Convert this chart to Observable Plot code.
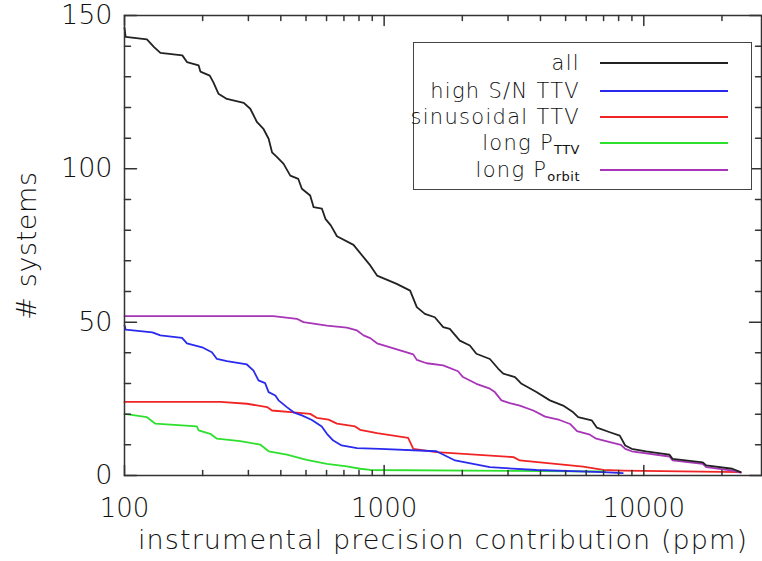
<!DOCTYPE html>
<html>
<head>
<meta charset="utf-8">
<script src="https://cdn.jsdelivr.net/npm/d3@7"></script>
<script src="https://cdn.jsdelivr.net/npm/@observablehq/plot@0.6"></script>
<style>
  html, body { margin: 0; padding: 0; background: white; }
  #wrap { position: relative; width: 762px; height: 561px; font-family: "DejaVu Sans", sans-serif; font-weight: 200; color: #111; }
  #legend { position: absolute; left: 413px; top: 42px; width: 339px; height: 148px; box-sizing: border-box; border: 1.5px solid #444; background: white; }
  .row { position: absolute; left: 0; width: 100%; height: 26px; }
  .lab { position: absolute; right: 171px; top: 0; line-height: 26px; font-size: 21px; letter-spacing: 1.3px; white-space: nowrap; color: #111; }
  .lab sub { font-size: 13px; vertical-align: -4px; letter-spacing: 0.5px; font-weight: 400; }
  .swatch { position: absolute; left: 186px; width: 128px; top: 12px; height: 0; border-top: 2px solid; }
</style>
</head>
<body>
<div id="wrap"></div>
<script>
// ---- data ----
const allX = [100, 101, 122, 130, 137.5, 167, 174, 193, 196, 213, 220, 230, 248, 288, 305, 324, 343, 359, 370, 387, 410, 435, 467, 482, 519, 535, 576, 594, 624, 658, 762, 884, 939, 1118, 1259, 1336, 1435, 1567, 1688, 1790, 1956, 2138, 2266, 2554, 2752, 2876, 3191, 3383, 3859, 4348, 4890, 5349, 5587, 6300, 6600, 7400, 8081, 8480, 8980, 10200, 12550, 12920, 16870, 17400, 21920, 23600];
const allY = [146, 143, 142.2, 139.7, 137.8, 137, 134.8, 133.7, 131.7, 130.4, 128.2, 124.5, 122.8, 121.5, 119.6, 115.2, 113, 109.8, 105.4, 103.8, 101.6, 97.8, 96.7, 93.5, 91.3, 87.5, 87, 83.7, 81.5, 78, 75.2, 68.5, 65.2, 62.5, 60.3, 54.9, 52.7, 51.6, 48.4, 47.8, 44, 42.4, 39.7, 38, 34.8, 33.2, 32.1, 29.9, 27.2, 24.5, 22.8, 20.6, 19, 18, 15.6, 14.1, 13, 9.8, 8.7, 7.9, 6.8, 5.4, 4.3, 3.3, 2.2, 1.1];

const snX = [100, 101, 128, 137.5, 166.6, 174, 199, 217, 227, 248, 296, 314, 328, 348, 359, 381, 392, 422, 448, 482, 527, 575, 602, 637, 686, 786, 963, 1590, 1876, 2554, 3860, 6975, 8300];
const snY = [49, 47.6, 46.7, 45.7, 44.9, 43.1, 41.8, 40.2, 38, 37.3, 36.2, 34.2, 31, 30.1, 27.2, 26.1, 24.5, 22.3, 20.6, 19.6, 18.1, 16, 13.6, 11.4, 9.8, 8.9, 8.7, 7.9, 4.9, 2.7, 1.8, 1.1, 0.8];

const sinX = [100, 234, 296, 354, 370, 448, 519, 550, 611, 658, 773, 808, 939, 1237, 1295, 1590, 3150, 3330, 5840, 6975, 8300, 23600];
const sinY = [24, 24, 23.4, 22.3, 21.2, 20.6, 20.1, 18.8, 18.2, 16.9, 16, 14.9, 13.8, 12.3, 8.7, 7.6, 6, 4.9, 2.9, 1.8, 1.6, 1.1];

const pttvX = [100, 122, 131.6, 190, 193, 214, 227, 279, 333, 359, 422, 503, 602, 718, 808, 884, 7100];
const pttvY = [20.1, 19, 16.9, 16, 14.7, 13.6, 12, 11.2, 10.1, 7.9, 6.8, 5.1, 3.8, 3, 2.2, 1.8, 1.3];

const porbX = [100, 374, 461, 489, 602, 718, 786, 833, 884, 939, 1152, 1295, 1336, 1458, 1688, 1925, 2012, 2266, 2554, 2669, 2830, 3046, 3330, 3753, 4168, 4740, 5200, 5530, 6200, 6560, 7400, 8170, 8480, 8980, 12550, 12920, 16870, 17400, 21920, 23600];
const porbY = [52, 52, 51.1, 50, 48.9, 48.2, 47.3, 45.7, 44.8, 43.1, 40.8, 39.5, 37.7, 36.6, 35.9, 34, 32.1, 29.9, 28.3, 27.2, 24.5, 23.6, 22.8, 21.2, 19.2, 18.1, 16.8, 14.5, 13.3, 12, 10.9, 10, 8.7, 7.9, 6.2, 4.9, 3.8, 2.7, 1.6, 0.9];

const seriesNames = ["all", "high S/N TTV", "sinusoidal TTV", "long P", "long P"];
const seriesSubs = ["", "", "", "TTV", "orbit"];
const seriesColors = ["#222222", "#2a2aee", "#f02424", "#2ee02e", "#a834b8"];
const seriesX = [allX, snX, sinX, pttvX, porbX];
const seriesY = [allY, snY, sinY, pttvY, porbY];

const xMajor = [100, 1000, 10000];
const xMinor = [200, 300, 400, 500, 600, 700, 800, 900, 2000, 3000, 4000, 5000, 6000, 7000, 8000, 9000, 20000];
const yMajor = [0, 50, 100, 150];
const yMinor = [10, 20, 30, 40, 60, 70, 80, 90, 110, 120, 130, 140];

const xLabel = "instrumental precision contribution (ppm)";
const yLabel = "# systems";

// ---- build ----
const tickShape = { draw(context, l) { context.moveTo(0, 0); context.lineTo(0, -l); } };
const axisColor = "#333";
const textColor = "#111";

const lineMarks = seriesX.map((xs, i) =>
  Plot.line(xs.map((x, j) => ({x, y: seriesY[i][j]})), {x: "x", y: "y", stroke: seriesColors[i], strokeWidth: 1.8})
);
const order = [2, 3, 1, 4, 0];

function ticks(data, anchor, rotate, length) {
  const isX = anchor === "top" || anchor === "bottom";
  return Plot.vector(data, {
    [isX ? "x" : "y"]: d => d,
    frameAnchor: anchor, rotate, length, anchor: "start",
    shape: tickShape, stroke: axisColor, strokeWidth: 1.5
  });
}

const chart = Plot.plot({
  width: 762,
  height: 561,
  marginLeft: 124,
  marginRight: 1,
  marginTop: 15,
  marginBottom: 86,
  x: {type: "log", domain: [100, 28400]},
  y: {domain: [0, 150]},
  style: {fontFamily: "'DejaVu Sans', sans-serif", fontWeight: 200, background: "white", color: textColor, overflow: "visible"},
  marks: [
    ...order.map(i => lineMarks[i]),
    Plot.frame({stroke: axisColor, strokeWidth: 1.5}),
    ticks(xMajor, "bottom", 0, 10),
    ticks(xMinor, "bottom", 0, 5),
    ticks(xMajor, "top", 180, 10),
    ticks(xMinor, "top", 180, 5),
    ticks(yMajor, "left", 90, 12),
    ticks(yMinor, "left", 90, 6),
    ticks(yMajor, "right", -90, 12),
    ticks(yMinor, "right", -90, 6),
    Plot.axisX({ticks: xMajor, tickSize: 0, tickPadding: 23, tickFormat: d => String(d), fontSize: 26, label: null, fill: textColor}),
    Plot.axisY({ticks: yMajor, tickSize: 0, tickPadding: 12, tickFormat: d => String(d), fontSize: 27, label: null, fill: textColor}),
    Plot.text([xLabel], {text: d => d, frameAnchor: "bottom", textAnchor: "middle", dy: 65, fontSize: 27, fill: textColor, lineAnchor: "middle"}),
    Plot.text([yLabel], {text: d => d, frameAnchor: "left", textAnchor: "middle", dx: -97, rotate: -90, fontSize: 27, fill: textColor, lineAnchor: "middle"})
  ]
});

// wider letter spacing for the axis titles, as in the reference
chart.querySelectorAll("text").forEach(t => {
  if (t.textContent === xLabel) t.style.letterSpacing = "1.1px";
  if (t.textContent === yLabel) t.style.letterSpacing = "0.6px";
});

const wrap = document.getElementById("wrap");
wrap.appendChild(chart);

// legend (HTML overlay, upper right inside the frame)
const legend = document.createElement("div");
legend.id = "legend";
const rowTops = [7, 35, 61, 87, 114];
seriesNames.forEach((name, i) => {
  const row = document.createElement("div");
  row.className = "row";
  row.style.top = rowTops[i] + "px";
  const lab = document.createElement("div");
  lab.className = "lab";
  lab.textContent = name;
  if (seriesSubs[i]) {
    const s = document.createElement("sub");
    s.textContent = seriesSubs[i];
    lab.appendChild(s);
  }
  const sw = document.createElement("div");
  sw.className = "swatch";
  sw.style.borderTopColor = seriesColors[i];
  row.appendChild(lab);
  row.appendChild(sw);
  legend.appendChild(row);
});
wrap.appendChild(legend);
</script>
</body>
</html>
